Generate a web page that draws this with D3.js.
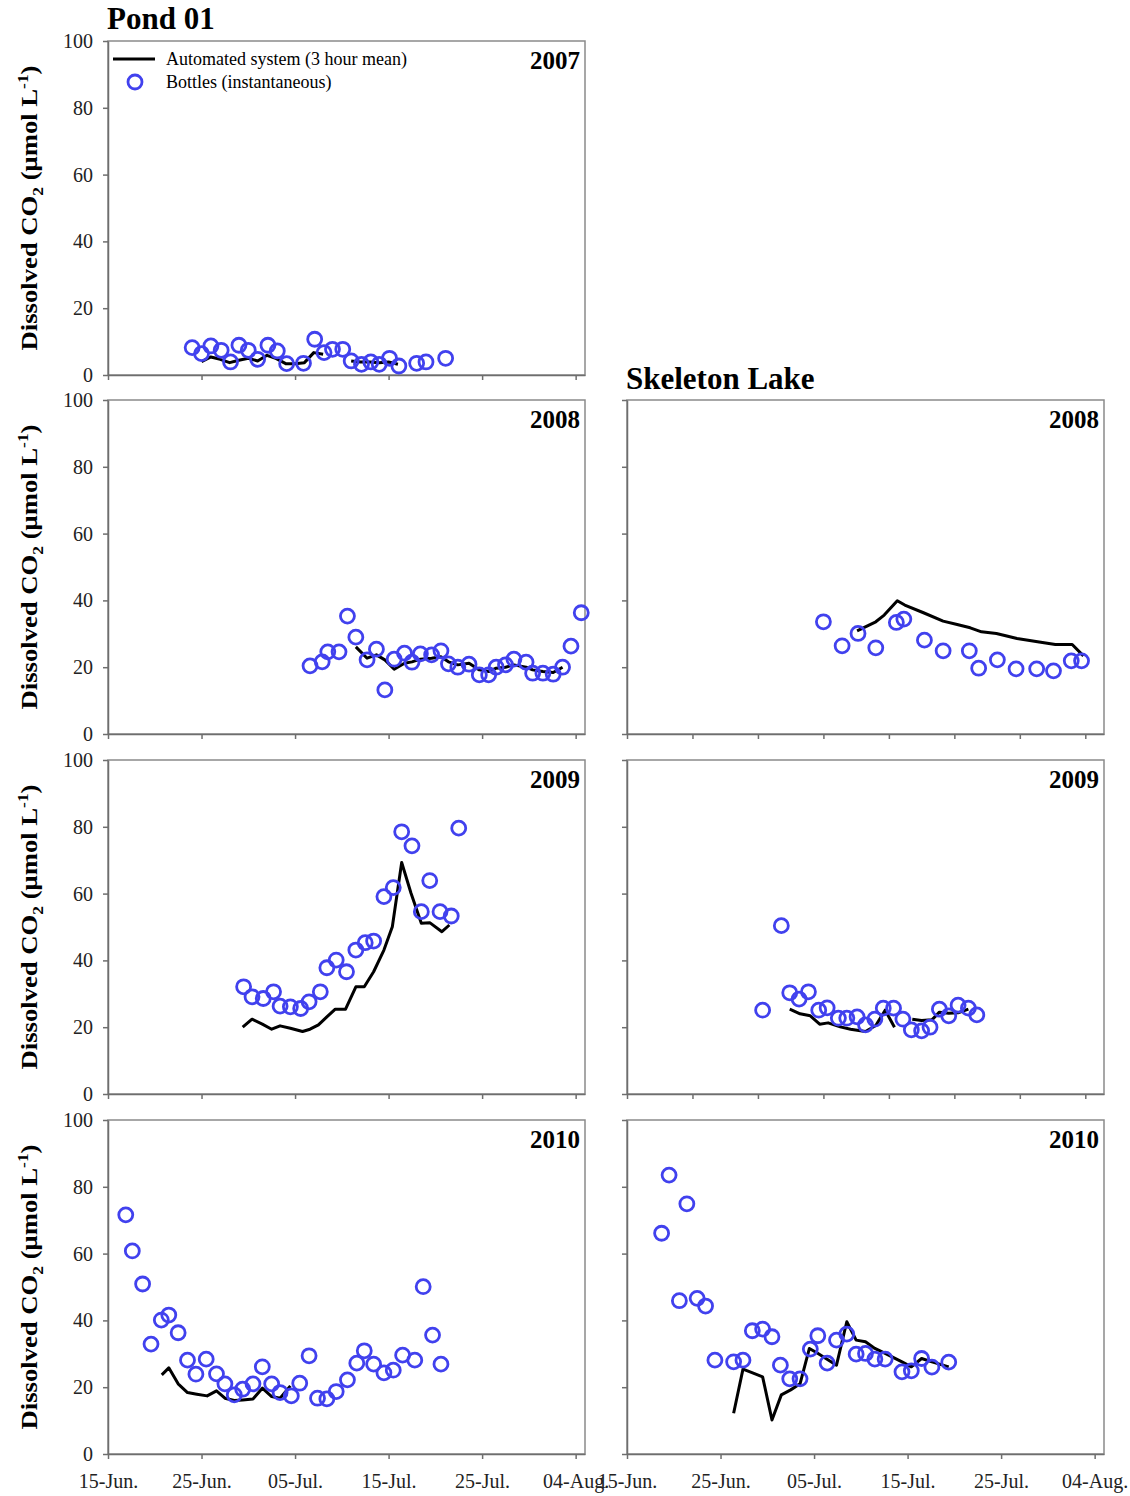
<!DOCTYPE html>
<html>
<head>
<meta charset="utf-8">
<script src="https://cdn.jsdelivr.net/npm/d3@7"></script>
<style>
  body { margin: 0; background: #fff; }
  svg text { font-family: "Liberation Serif", "Times New Roman", serif; }
</style>
</head>
<body>
<div id="chart"></div>
<script>
// days are counted from 15 June
var xTickDays = [0, 10, 20, 30, 40, 50];
var weekTickDays = [0, 7, 14, 21, 28, 35, 42, 49];
var yTicks = [0, 20, 40, 60, 80, 100];

// Pond 01
var pond2007BottleDays = [9, 10, 11, 12.1, 13.1, 14, 15, 16, 17.1, 18.1, 19.1, 20.9, 22.1, 23.1, 24, 25.1, 26, 27.1, 28.1, 29, 30.1, 31.1, 33, 34, 36.1];
var pond2007BottleCO2 = [8.2, 6.4, 8.7, 7.4, 3.9, 8.9, 7.4, 4.7, 8.9, 7.2, 3.4, 3.5, 10.7, 6.7, 7.7, 7.7, 4.2, 3.2, 3.9, 3.2, 5.0, 2.7, 3.5, 3.9, 5.0];
var pond2007AutoDays = [10, 11, 12, 13, 14, 15, 16, 17, 18, 19, 20, 21, 22, 23, 24, 26, 27, 28, 29, 30, 31];
var pond2007AutoCO2 = [4.0, 5.4, 4.7, 3.7, 4.4, 5.0, 4.2, 5.9, 4.9, 3.4, 3.4, 3.7, 6.7, 6.2, null, 4.2, 3.9, 3.9, 3.7, 3.9, 3.2];

var pond2008BottleDays = [21.6, 22.9, 23.5, 24.7, 25.6, 26.5, 27.7, 28.7, 29.6, 30.6, 31.7, 32.5, 33.4, 34.6, 35.6, 36.4, 37.4, 38.6, 39.7, 40.7, 41.5, 42.5, 43.4, 44.7, 45.4, 46.5, 47.6, 48.6, 49.5, 50.6];
var pond2008BottleCO2 = [20.4, 21.6, 24.6, 24.6, 35.3, 29.0, 22.2, 25.4, 13.2, 22.4, 24.2, 21.5, 24.0, 23.7, 24.9, 21.0, 20.0, 20.9, 17.7, 17.7, 20.0, 20.7, 22.4, 21.5, 18.2, 18.2, 17.9, 20.0, 26.3, 36.3];
var pond2008AutoDays = [26.5, 27.7, 28.7, 29.6, 30.6, 31.7, 32.5, 33.4, 34.6, 35.6, 36.4, 37.4, 38.6, 39.7, 40.7, 41.5, 42.5, 43.4, 44.7, 45.4, 46.5, 47.6, 48.6];
var pond2008AutoCO2 = [26.1, 22.7, 23.7, 22.2, 19.4, 21.2, 21.6, 22.4, 22.7, 23.1, 21.6, 20.7, 21.2, 19.2, 18.7, 19.7, 20.0, 20.7, 20.0, 19.2, 18.7, 18.4, 20.0];

var pond2009BottleDays = [14.5, 15.4, 16.6, 17.7, 18.4, 19.5, 20.6, 21.5, 22.7, 23.4, 24.4, 25.5, 26.5, 27.5, 28.4, 29.5, 30.5, 31.4, 32.5, 33.5, 34.4, 35.5, 36.7, 37.5];
var pond2009BottleCO2 = [32.1, 29.1, 28.6, 30.6, 26.3, 26.1, 25.6, 27.6, 30.6, 37.8, 40.1, 36.6, 43.1, 45.3, 45.8, 59.1, 61.8, 78.5, 74.3, 54.6, 63.9, 54.6, 53.3, 79.6];
var pond2009AutoDays = [14.4, 15.4, 16.5, 17.5, 18.4, 19.5, 20.8, 21.6, 22.5, 23.4, 24.3, 25.4, 26.5, 27.4, 28.4, 29.5, 30.4, 31.4, 32.4, 33.5, 34.4, 35.7, 36.5];
var pond2009AutoCO2 = [20.0, 22.4, 20.9, 19.4, 20.4, 19.7, 18.7, 19.4, 20.7, 23.1, 25.4, 25.4, 32.1, 32.1, 36.6, 43.1, 50.1, 69.3, 60.1, 51.1, 51.3, 48.6, 50.6];

var pond2010BottleDays = [1.9, 2.6, 3.7, 4.6, 5.7, 6.5, 7.5, 8.5, 9.4, 10.5, 11.6, 12.5, 13.5, 14.4, 15.5, 16.5, 17.5, 18.4, 19.6, 20.5, 21.5, 22.4, 23.4, 24.4, 25.6, 26.6, 27.4, 28.4, 29.5, 30.5, 31.5, 32.8, 33.7, 34.7, 35.6];
var pond2010BottleCO2 = [71.6, 60.8, 50.9, 32.9, 40.1, 41.6, 36.3, 28.1, 23.9, 28.4, 24.0, 21.0, 17.7, 19.4, 21.0, 26.1, 21.0, 18.4, 17.4, 21.2, 29.4, 16.7, 16.5, 18.7, 22.2, 27.2, 30.9, 26.9, 24.3, 25.1, 29.6, 28.1, 50.1, 35.6, 26.9];
var pond2010AutoDays = [5.75, 6.5, 7.5, 8.5, 9.5, 10.6, 11.6, 12.5, 13.5, 14.4, 15.5, 16.5, 17.5, 18.4, 19.5];
var pond2010AutoCO2 = [23.7, 25.8, 21.0, 18.4, 17.9, 17.4, 18.9, 16.7, 16.0, 16.2, 16.5, 19.7, 17.2, 16.7, 20.4];

// Skeleton Lake
var skel2008BottleDays = [21, 23, 24.7, 26.6, 28.8, 29.6, 31.8, 33.8, 36.6, 37.6, 39.6, 41.6, 43.8, 45.6, 47.5, 48.6];
var skel2008BottleCO2 = [33.6, 26.4, 30.1, 25.8, 33.4, 34.4, 28.1, 24.9, 24.9, 19.7, 22.2, 19.5, 19.5, 18.9, 21.9, 21.9];
var skel2008AutoDays = [24.6, 26.6, 27.5, 28.9, 29.7, 31.7, 33.8, 35.3, 36.7, 37.9, 39.5, 41.7, 43.9, 45.8, 47.6, 48.8];
var skel2008AutoCO2 = [30.9, 33.6, 35.6, 39.9, 38.6, 36.3, 33.8, 32.8, 31.8, 30.6, 30.1, 28.6, 27.6, 26.8, 26.8, 23.4];

var skel2009BottleDays = [14.5, 16.5, 17.4, 18.4, 19.4, 20.5, 21.4, 22.6, 23.5, 24.6, 25.5, 26.5, 27.4, 28.5, 29.5, 30.4, 31.5, 32.4, 33.4, 34.4, 35.4, 36.5, 37.4];
var skel2009BottleCO2 = [25.1, 50.4, 30.3, 28.4, 30.6, 25.1, 25.8, 22.7, 22.7, 23.1, 20.7, 22.4, 25.7, 25.7, 22.4, 19.2, 18.9, 20.0, 25.4, 23.4, 26.6, 25.7, 23.7];
var skel2009AutoDays = [17.4, 18.5, 19.6, 20.6, 21.5, 22.8, 23.9, 25.5, 26.6, 27.6, 28.6, 29.5, 30.5, 31.5, 32.6, 33.4, 34.4, 35.4, 36.5];
var skel2009AutoCO2 = [25.4, 24.0, 23.4, 20.9, 21.3, 20.1, 19.4, 18.7, 20.5, 25.1, 20.0, null, 22.4, 22.0, 22.2, 24.5, 24.2, 24.3, 25.4];

var skel2010BottleDays = [3.7, 4.5, 5.6, 6.4, 7.5, 8.4, 9.4, 11.4, 12.4, 13.4, 14.5, 15.5, 16.4, 17.4, 18.5, 19.6, 20.4, 21.4, 22.4, 23.5, 24.5, 25.5, 26.5, 27.6, 29.4, 30.4, 31.5, 32.6, 34.4];
var skel2010BottleCO2 = [66.1, 83.5, 45.9, 74.9, 46.6, 44.3, 28.1, 27.6, 28.1, 36.9, 37.4, 35.1, 26.6, 22.5, 22.5, 31.4, 35.4, 27.2, 34.1, 35.9, 29.9, 30.1, 28.4, 28.4, 24.6, 24.9, 28.6, 26.0, 27.5];
var skel2010AutoDays = [11.4, 12.4, 13.5, 14.5, 15.5, 16.5, 17.5, 18.5, 19.5, 20.3, 22.4, 23.5, 24.5, 25.5, 26.5, 27.6, 29.4, 30.4, 31.5, 32.6, 34.4];
var skel2010AutoCO2 = [12.2, 25.4, 24.2, 23.1, 10.2, 17.7, 19.2, 21.0, 31.6, 30.3, 26.6, 39.6, 34.1, 33.6, 31.6, 30.1, 27.6, 26.1, 28.6, 27.6, 26.1];

var panels = [
    { col: 0, row: 0, year: "2007", bd: pond2007BottleDays, bv: pond2007BottleCO2, ad: pond2007AutoDays, av: pond2007AutoCO2, ticks: xTickDays },
    { col: 0, row: 1, year: "2008", bd: pond2008BottleDays, bv: pond2008BottleCO2, ad: pond2008AutoDays, av: pond2008AutoCO2, ticks: xTickDays },
    { col: 0, row: 2, year: "2009", bd: pond2009BottleDays, bv: pond2009BottleCO2, ad: pond2009AutoDays, av: pond2009AutoCO2, ticks: xTickDays },
    { col: 0, row: 3, year: "2010", bd: pond2010BottleDays, bv: pond2010BottleCO2, ad: pond2010AutoDays, av: pond2010AutoCO2, ticks: xTickDays },
    { col: 1, row: 1, year: "2008", bd: skel2008BottleDays, bv: skel2008BottleCO2, ad: skel2008AutoDays, av: skel2008AutoCO2, ticks: weekTickDays },
    { col: 1, row: 2, year: "2009", bd: skel2009BottleDays, bv: skel2009BottleCO2, ad: skel2009AutoDays, av: skel2009AutoCO2, ticks: weekTickDays },
    { col: 1, row: 3, year: "2010", bd: skel2010BottleDays, bv: skel2010BottleCO2, ad: skel2010AutoDays, av: skel2010AutoCO2, ticks: xTickDays }
];

var W = 1130, H = 1496;
var colX = [108, 627];
var rowY = [41, 400, 760, 1120];
var pw = 477, ph = 334;
var blue = "#4141ee";
var axisGrey = "#6e6e6e";

var start = new Date(2000, 5, 15);
function toDate(d) { return d3.timeMinute.offset(start, Math.round(d * 1440)); }

var x = d3.scaleTime()
    .domain([start, d3.timeDay.offset(start, 51)])
    .range([0, pw]);
var y = d3.scaleLinear().domain([0, 100]).range([ph, 0]);
var fmt = d3.timeFormat("%d-%b.");

var svg = d3.select("#chart").append("svg")
    .attr("width", W)
    .attr("height", H);

svg.append("text")
    .attr("x", 107).attr("y", 29)
    .attr("font-size", "31px").attr("font-weight", "bold")
    .text("Pond 01");
svg.append("text")
    .attr("x", 626).attr("y", 389)
    .attr("font-size", "31px").attr("font-weight", "bold")
    .text("Skeleton Lake");

var line = d3.line()
    .defined(function (d) { return d.v != null; })
    .x(function (d) { return x(toDate(d.d)); })
    .y(function (d) { return y(d.v); });

panels.forEach(function (p) {
    var g = svg.append("g")
        .attr("transform", "translate(" + colX[p.col] + "," + rowY[p.row] + ")");
    var isBottom = p.row === 3;

    g.append("rect")
        .attr("width", pw).attr("height", ph)
        .attr("fill", "none")
        .attr("stroke", "#8a8a8a")
        .attr("stroke-width", 1.5);

    var xAxis = d3.axisBottom(x)
        .tickValues(p.ticks.map(toDate))
        .tickSize(5).tickSizeOuter(0).tickPadding(15)
        .tickFormat(isBottom ? fmt : function () { return ""; });
    var gx = g.append("g").attr("transform", "translate(0," + ph + ")").call(xAxis);

    var yAxis = d3.axisLeft(y)
        .tickValues(yTicks)
        .tickSize(5).tickSizeOuter(0).tickPadding(10)
        .tickFormat(p.col === 0 ? d3.format("d") : function () { return ""; });
    var gy = g.append("g").call(yAxis);

    [gx, gy].forEach(function (a) {
        a.select(".domain").attr("stroke", axisGrey).attr("stroke-width", 1.5);
        a.selectAll(".tick line").attr("stroke", axisGrey).attr("stroke-width", 1.5);
        a.selectAll("text")
            .attr("font-family", "Liberation Serif")
            .attr("font-size", "20px")
            .attr("fill", "#222");
    });

    g.append("text")
        .attr("x", pw - 5).attr("y", 28)
        .attr("text-anchor", "end")
        .attr("font-size", "25px").attr("font-weight", "bold")
        .text(p.year);

    var autoData = p.ad.map(function (d, i) { return { d: d, v: p.av[i] }; });
    g.append("path")
        .datum(autoData)
        .attr("d", line)
        .attr("fill", "none")
        .attr("stroke", "#000")
        .attr("stroke-width", 3)
        .attr("stroke-linejoin", "round");

    g.selectAll("circle.bottle")
        .data(p.bd.map(function (d, i) { return { d: d, v: p.bv[i] }; }))
        .enter()
        .append("circle")
        .attr("class", "bottle")
        .attr("cx", function (d) { return x(toDate(d.d)); })
        .attr("cy", function (d) { return y(d.v); })
        .attr("r", 7)
        .attr("fill", "none")
        .attr("stroke", blue)
        .attr("stroke-width", 2.8);

    if (p.col === 0) {
        // reference text is stretched along its length
        var lab = svg.append("text")
            .attr("transform", "translate(37," + (rowY[p.row] + ph / 2) + ") rotate(-90) scale(1.16,1)")
            .attr("text-anchor", "middle")
            .attr("font-size", "23px").attr("font-weight", "bold");
        lab.append("tspan").text("Dissolved CO");
        lab.append("tspan").attr("font-size", "15px").attr("dy", 6).text("2");
        lab.append("tspan").attr("dy", -6).text(" (\u03bcmol L");
        lab.append("tspan").attr("font-size", "15px").attr("dy", -9).text("-1");
        lab.append("tspan").attr("dy", 9).text(")");
    }

    if (p.row === 0) {
        var lg = g.append("g");
        lg.append("line")
            .attr("x1", 5).attr("x2", 47).attr("y1", 18).attr("y2", 18)
            .attr("stroke", "#000").attr("stroke-width", 3);
        lg.append("text")
            .attr("x", 58).attr("y", 24)
            .attr("font-size", "18px")
            .text("Automated system (3 hour mean)");
        lg.append("circle")
            .attr("cx", 27).attr("cy", 41).attr("r", 7)
            .attr("fill", "none").attr("stroke", blue).attr("stroke-width", 2.8);
        lg.append("text")
            .attr("x", 58).attr("y", 47)
            .attr("font-size", "18px")
            .text("Bottles (instantaneous)");
    }
});
</script>
</body>
</html>
